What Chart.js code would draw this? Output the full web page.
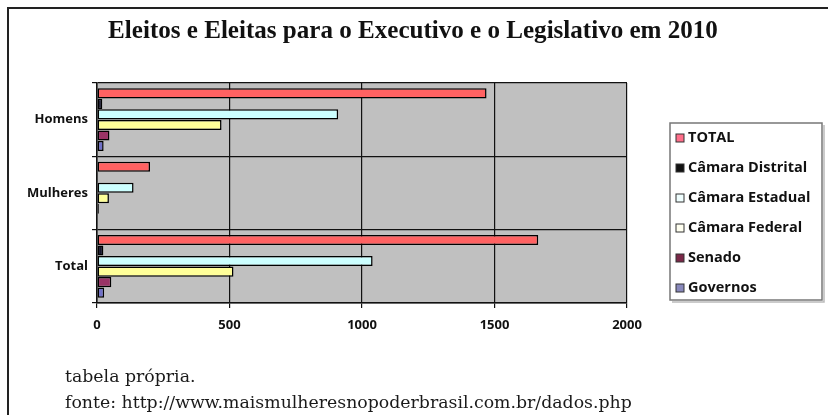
<!DOCTYPE html>
<html>
<head>
<meta charset="utf-8">
<script src="https://cdn.jsdelivr.net/npm/chart.js@4/dist/chart.umd.min.js"></script>
<style>
html,body{margin:0;padding:0;background:#fff;}
#wrap{position:relative;width:828px;height:415px;}
</style>
</head>
<body>
<div id="wrap"><canvas id="c" width="828" height="415"></canvas></div>
<script>
const categories = ['Homens', 'Mulheres', 'Total'];
const seriesNames = ['TOTAL', 'Câmara Distrital', 'Câmara Estadual', 'Câmara Federal', 'Senado', 'Governos'];
const totalValues     = [1470, 200, 1665];
const distritalValues = [20, 4, 24];
const estadualValues  = [910, 138, 1040];
const federalValues   = [470, 45, 515];
const senadoValues    = [47, 7, 54];
const governosValues  = [25, 2, 27];
const xTicks = [0, 500, 1000, 1500, 2000];
const titleText = 'Eleitos e Eleitas para o Executivo e o Legislativo em 2010';
const footerLines = ['tabela própria.', 'fonte: http://www.maismulheresnopoderbrasil.com.br/dados.php'];

const colors = ['#ff6262', '#14142a', '#ccffff', '#ffff99', '#993366', '#7070c8'];
const legendColors = ['#ff6f8a', '#111111', '#effefe', '#fffff0', '#7a2848', '#8888bb'];
const allValues = [totalValues, distritalValues, estadualValues, federalValues, senadoValues, governosValues];

const datasets = seriesNames.map((name, i) => ({
  label: name,
  data: allValues[i],
  backgroundColor: colors[i],
  borderColor: '#000',
  borderWidth: 1.5,
  borderSkipped: false,
  categoryPercentage: 0.86,
  barPercentage: 0.96
}));

function fitFont(ctx, text, family, weight, target) {
  ctx.font = weight + ' 20px ' + family;
  const w = ctx.measureText(text).width;
  return weight + ' ' + (20 * target / w).toFixed(2) + 'px ' + family;
}

const frame = {
  id: 'frame',
  beforeDraw(chart) {
    const {ctx, chartArea: a} = chart;
    ctx.save();
    ctx.fillStyle = '#fff';
    ctx.fillRect(0, 0, chart.width, chart.height);
    ctx.fillStyle = '#c0c0c0';
    ctx.fillRect(a.left, a.top, a.right - a.left, a.bottom - a.top);
    ctx.restore();
  },
  afterDraw(chart) {
    const ctx = chart.ctx;
    ctx.save();
    // outer frame
    ctx.strokeStyle = '#222';
    ctx.lineWidth = 2;
    ctx.beginPath();
    ctx.moveTo(828, 8); ctx.lineTo(8, 8); ctx.lineTo(8, 415);
    ctx.stroke();
    // title
    ctx.fillStyle = '#111';
    ctx.font = fitFont(ctx, titleText, '"Liberation Serif"', 'bold', 610);
    ctx.textAlign = 'center';
    ctx.textBaseline = 'middle';
    ctx.fillText(titleText, 413, 32);
    // footer
    ctx.textAlign = 'left';
    ctx.font = fitFont(ctx, footerLines[1], '"DejaVu Serif"', 'normal', 567);
    ctx.fillStyle = '#1a1a1a';
    ctx.fillText(footerLines[0], 65, 377);
    ctx.fillText(footerLines[1], 65, 403);
    // legend
    const lx = 670, ly = 123, lw = 152, lh = 177;
    ctx.fillStyle = '#fff';
    ctx.fillRect(lx, ly, lw, lh);
    ctx.strokeStyle = '#777';
    ctx.lineWidth = 1.5;
    ctx.strokeRect(lx, ly, lw, lh);
    ctx.strokeStyle = '#bbb';
    ctx.beginPath();
    ctx.moveTo(lx + 2, ly + lh + 2); ctx.lineTo(lx + lw + 2, ly + lh + 2); ctx.lineTo(lx + lw + 2, ly + 2);
    ctx.stroke();
    ctx.font = 'bold 14.5px "Open Sans"';
    ctx.textBaseline = 'middle';
    chart.data.datasets.forEach((ds, i) => {
      const y = 138 + i * 30;
      ctx.fillStyle = legendColors[i];
      ctx.fillRect(676, y - 4, 8, 8);
      ctx.strokeStyle = '#333';
      ctx.lineWidth = 1;
      ctx.strokeRect(676, y - 4, 8, 8);
      ctx.fillStyle = '#111';
      ctx.fillText(ds.label, 688, y);
    });
    ctx.restore();
  }
};

new Chart(document.getElementById('c'), {
  type: 'bar',
  data: { labels: categories, datasets },
  options: {
    indexAxis: 'y',
    responsive: false,
    animation: false,
    layout: { padding: { left: 8, right: 201, top: 83, bottom: 77 } },
    plugins: { legend: { display: false }, title: { display: false }, tooltip: { enabled: false } },
    scales: {
      x: {
        min: xTicks[0], max: xTicks[xTicks.length - 1],
        afterBuildTicks(scale) { scale.ticks = xTicks.map(v => ({ value: v })); },
        afterFit(scale) { scale.height = 35; },
        ticks: { color: '#111', font: { family: '"Open Sans"', weight: 'bold', size: 13 }, padding: 9,
                 callback: v => String(v) },
        grid: { color: '#111', lineWidth: 1.2, tickLength: 5 },
        border: { color: '#111', width: 1.5 }
      },
      y: {
        afterFit(scale) { scale.width = 89; },
        ticks: { color: '#111', font: { family: '"Open Sans"', weight: 'bold', size: 13 }, padding: 4 },
        grid: { color: '#111', lineWidth: 1.2, offset: true, tickLength: 5 },
        border: { color: '#111', width: 1.5 }
      }
    }
  },
  plugins: [frame]
});
</script>
</body>
</html>
